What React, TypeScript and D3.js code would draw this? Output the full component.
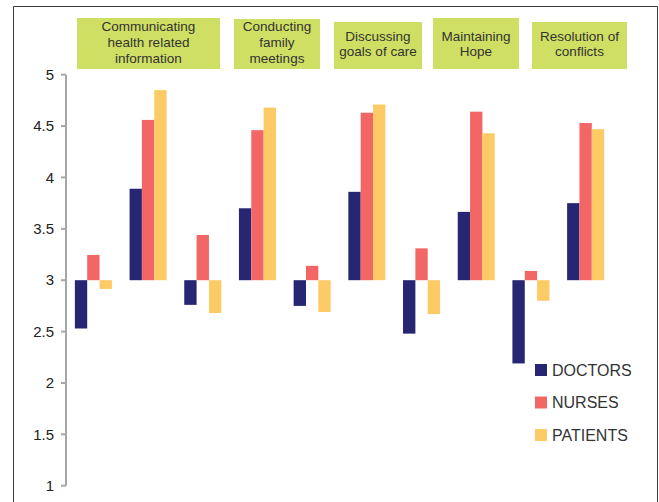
import React from "react";
import * as d3 from "d3";

// Mean scores per skill domain; each domain has a pair of groups:
// a deviation group (around the baseline of 3) and a rating group.
const groups = ["g1", "g2", "g3", "g4", "g5", "g6", "g7", "g8", "g9", "g10"];
const series = ["DOCTORS", "NURSES", "PATIENTS"];
const doctors = [2.53, 3.89, 2.76, 3.70, 2.75, 3.86, 2.48, 3.665, 2.19, 3.75];
const nurses = [3.246, 4.56, 3.44, 4.46, 3.14, 4.63, 3.31, 4.64, 3.09, 4.53];
const patients = [2.915, 4.85, 2.68, 4.68, 2.69, 4.71, 2.67, 4.43, 2.8, 4.47];
const colors = ["#262673", "#f26666", "#fdcb66"];
const yTicks = [1, 1.5, 2, 2.5, 3, 3.5, 4, 4.5, 5];
const baseline = 3;

// Header labels over the chart, each spanning one pair of groups
const headers = [
  ["Communicating", "health related", "information"],
  ["Conducting", "family", "meetings"],
  ["Discussing", "goals of care"],
  ["Maintaining", "Hope"],
  ["Resolution of", "conflicts"],
];
const headerBoxes = [
  { x0: 77, x1: 220, y0: 18 },
  { x0: 234, x1: 320, y0: 19 },
  { x0: 334, x1: 422, y0: 22 },
  { x0: 433, x1: 519, y0: 18 },
  { x0: 532, x1: 627, y0: 22 },
];

const W = 659;
const H = 502;
const left = 66;
const right = 613;
const top = 74.7;
const bottom = 485.7;

export default function App() {
  const values = [doctors, nurses, patients];
  const x = d3.scaleBand<string>().domain(groups).range([left, right]).paddingInner(0.323).paddingOuter(0.162);
  const xs = d3.scaleBand<string>().domain(series).range([0, x.bandwidth()]);
  const y = d3.scaleLinear().domain([1, 5]).range([bottom, top]);
  const font = "Arial, 'Liberation Sans', Helvetica, sans-serif";

  return (
    <svg width={W} height={H} style={{ position: "absolute", left: 0, top: 0 }} fontFamily={font}>
      <rect x={0} y={0} width={W} height={H} fill="#fff" />
      {/* frame */}
      <path d={`M13.5,${H} V6.5 H657.5 V${H}`} fill="none" stroke="#3a3a3a" strokeWidth={1} />

      {/* header boxes */}
      {headers.map((lines, i) => {
        const b = headerBoxes[i];
        const y1 = 69;
        const cx = (b.x0 + b.x1) / 2;
        const startY = lines.length === 3 ? 26.7 : 36;
        return (
          <g key={i}>
            <rect x={b.x0} y={b.y0} width={b.x1 - b.x0} height={y1 - b.y0} fill="#cfdf63" />
            {lines.map((t, j) => (
              <text key={j} x={cx} y={startY + j * 15.7} dy="0.35em" textAnchor="middle" fontSize={13.5} fill="#333">
                {t}
              </text>
            ))}
          </g>
        );
      })}

      {/* bars */}
      {groups.map((g, gi) => (
        <g key={g}>
          {series.map((s, si) => {
            const v = values[si][gi];
            const y0 = y(Math.max(v, baseline));
            const y1 = y(Math.min(v, baseline));
            return (
              <rect
                key={s}
                x={(x(g) ?? 0) + (xs(s) ?? 0)}
                y={y0}
                width={xs.bandwidth()}
                height={y1 - y0}
                fill={colors[si]}
              />
            );
          })}
        </g>
      ))}

      {/* y axis */}
      <line x1={left} x2={left} y1={y(5)} y2={y(1)} stroke="#a6a6a6" strokeWidth={2} />
      {yTicks.map((t) => (
        <g key={t}>
          <line x1={left - 5} x2={left} y1={y(t)} y2={y(t)} stroke="#a6a6a6" strokeWidth={2} />
          <text x={54} y={y(t)} dy="0.35em" textAnchor="end" fontSize={15} fill="#222">
            {d3.format("")(t)}
          </text>
        </g>
      ))}

      {/* legend */}
      {series.map((s, i) => (
        <g key={s} transform={`translate(535, ${364 + i * 32.5})`}>
          <rect x={0} y={0} width={12} height={12} fill={colors[i]} />
          <text x={17} y={6} dy="0.35em" fontSize={16} fill="#333">
            {s}
          </text>
        </g>
      ))}
    </svg>
  );
}
